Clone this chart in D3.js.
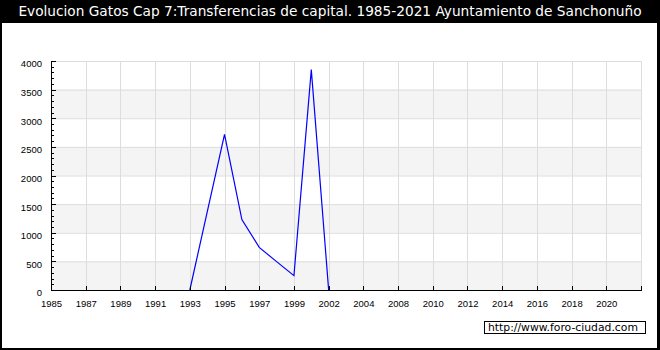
<!DOCTYPE html>
<html>
<head>
<meta charset="utf-8">
<script src="https://cdn.jsdelivr.net/npm/d3@7"></script>
<style>
  body { margin: 0; background: #fff; }
  svg { display: block; font-family: "DejaVu Sans", sans-serif; }
</style>
</head>
<body>
<div id="chart-area"></div>
<script>

// years on the x axis (not every year is present)
var years = [1985, 1986, 1987, 1988, 1989, 1990, 1991, 1992, 1993, 1994, 1995, 1996,
  1997, 1998, 1999, 2000, 2002, 2003, 2004, 2006, 2008, 2009, 2010, 2011, 2012, 2013,
  2014, 2015, 2016, 2017, 2018, 2019, 2020, 2021];

// gastos cap 7 (null = sin dato)
var gastos = [null, null, null, null, null, null, null, null, 0, 1360, 2720, 1230,
  745, 495, 250, 3850, 0, null, null, null, null, null, null, null, null, null,
  null, null, null, null, null, null, null, null];

var yTicks = [0, 500, 1000, 1500, 2000, 2500, 3000, 3500, 4000];

var titulo = "Evolucion Gatos Cap 7:Transferencias de capital. 1985-2021 Ayuntamiento de Sanchonuño";
var marca = "http://www.foro-ciudad.com";


LineChart = function(_parentElement, _data){
  this.parentElement = _parentElement;
  this.data = _data;
  this.initVis();
}

LineChart.prototype.initVis = function(){
  var vis = this;

  vis.W = 660;
  vis.H = 350;
  vis.margin = { top: 61, right: 19, bottom: 60, left: 51 };
  vis.width = vis.W - vis.margin.left - vis.margin.right;
  vis.height = vis.H - vis.margin.top - vis.margin.bottom;

  vis.root = d3.select("#" + vis.parentElement).append("svg")
      .attr("width", vis.W)
      .attr("height", vis.H);

  // frame + title bar
  vis.root.append("rect")
      .attr("x", 0).attr("y", 0)
      .attr("width", vis.W).attr("height", vis.H)
      .attr("fill", "#000");
  vis.root.append("rect")
      .attr("x", 2).attr("y", 23)
      .attr("width", vis.W - 5).attr("height", vis.H - 25)
      .attr("fill", "#fff");
  vis.root.append("text")
      .attr("x", vis.W / 2).attr("y", 16)
      .attr("text-anchor", "middle")
      .attr("fill", "#fff")
      .style("font-size", "13.7px")
      .text(titulo);

  vis.svg = vis.root.append("g")
      .attr("transform", "translate(" + vis.margin.left + "," + vis.margin.top + ")");

  // one extra slot so the axis runs past the last year
  vis.x = d3.scaleLinear()
      .domain([0, years.length])
      .range([0, vis.width]);

  vis.y = d3.scaleLinear()
      .domain([0, 4000])
      .range([vis.height, 0]);

  vis.wrangleData();
}

LineChart.prototype.wrangleData = function(){
  var vis = this;

  vis.displayData = vis.data.map(function(d, i){ return { i: i, value: d }; });
  vis.xTicks = d3.range(0, years.length + 1, 2);

  vis.updateVis();
}

LineChart.prototype.updateVis = function(){
  var vis = this;

  // alternating bands
  var bands = d3.range(0, yTicks.length - 1).filter(function(i){ return i % 2 == 0; });
  vis.svg.selectAll(".band").data(bands).enter().append("rect")
      .attr("class", "band")
      .attr("x", 0)
      .attr("width", vis.width)
      .attr("y", function(i){ return vis.y(yTicks[i + 1]); })
      .attr("height", function(i){ return vis.y(yTicks[i]) - vis.y(yTicks[i + 1]); })
      .attr("fill", "#f4f4f4");

  // grid
  vis.svg.selectAll(".hgrid").data(yTicks.slice(1)).enter().append("line")
      .attr("class", "hgrid")
      .attr("x1", 0).attr("x2", vis.width)
      .attr("y1", function(d){ return vis.y(d) + 0.5; })
      .attr("y2", function(d){ return vis.y(d) + 0.5; })
      .attr("stroke", "#dddddd");
  vis.svg.selectAll(".vgrid").data(vis.xTicks.slice(1)).enter().append("line")
      .attr("class", "vgrid")
      .attr("x1", function(d){ return Math.round(vis.x(d)) + 0.5; })
      .attr("x2", function(d){ return Math.round(vis.x(d)) + 0.5; })
      .attr("y1", 0).attr("y2", vis.height)
      .attr("stroke", "#dddddd");

  // line
  vis.line = d3.line()
      .defined(function(d){ return d.value !== null; })
      .x(function(d){ return vis.x(d.i); })
      .y(function(d){ return vis.y(d.value); });

  vis.svg.append("path")
      .datum(vis.displayData)
      .attr("fill", "none")
      .attr("stroke", "#0000ff")
      .attr("stroke-width", 1.2)
      .attr("d", vis.line);

  // axes
  vis.xAxis = d3.axisBottom(vis.x)
      .tickValues(vis.xTicks)
      .tickSizeInner(-4)
      .tickSizeOuter(0)
      .tickPadding(10)
      .tickFormat(function(d){ return d < years.length ? years[d] : ""; });

  vis.svg.append("g")
      .attr("class", "x-axis axis")
      .attr("transform", "translate(0," + vis.height + ")")
      .call(vis.xAxis);

  vis.yAxis = d3.axisLeft(vis.y)
      .tickValues(yTicks)
      .tickSizeInner(-5)
      .tickSizeOuter(0)
      .tickPadding(9)
      .tickFormat(d3.format("d"));

  var gy = vis.svg.append("g")
      .attr("class", "y-axis axis")
      .call(vis.yAxis);
  gy.selectAll("text").attr("dy", "0.62em");

  // minor ticks every 100
  var minor = d3.range(0, 4001, 100).filter(function(d){ return d % 500 != 0; });
  gy.selectAll(".minor").data(minor).enter().append("line")
      .attr("class", "minor")
      .attr("x1", 0).attr("x2", 3)
      .attr("y1", function(d){ return Math.round(vis.y(d)) + 0.5; })
      .attr("y2", function(d){ return Math.round(vis.y(d)) + 0.5; })
      .attr("stroke", "#000");

  vis.root.selectAll(".axis path, .axis line").attr("stroke", "#000").attr("shape-rendering", "crispEdges");
  vis.root.selectAll(".axis text").attr("fill", "#000").style("font-size", "9.5px");

  // watermark
  var wm = vis.root.append("g").attr("transform", "translate(484,321)");
  wm.append("rect")
      .attr("x", 0.5).attr("y", 0.5)
      .attr("width", 161).attr("height", 12)
      .attr("fill", "#fff")
      .attr("stroke", "#000");
  wm.append("text")
      .attr("x", 4).attr("y", 10)
      .style("font-size", "10.8px")
      .text(marca);
}

var chart = new LineChart("chart-area", gastos);
</script>
</body>
</html>
